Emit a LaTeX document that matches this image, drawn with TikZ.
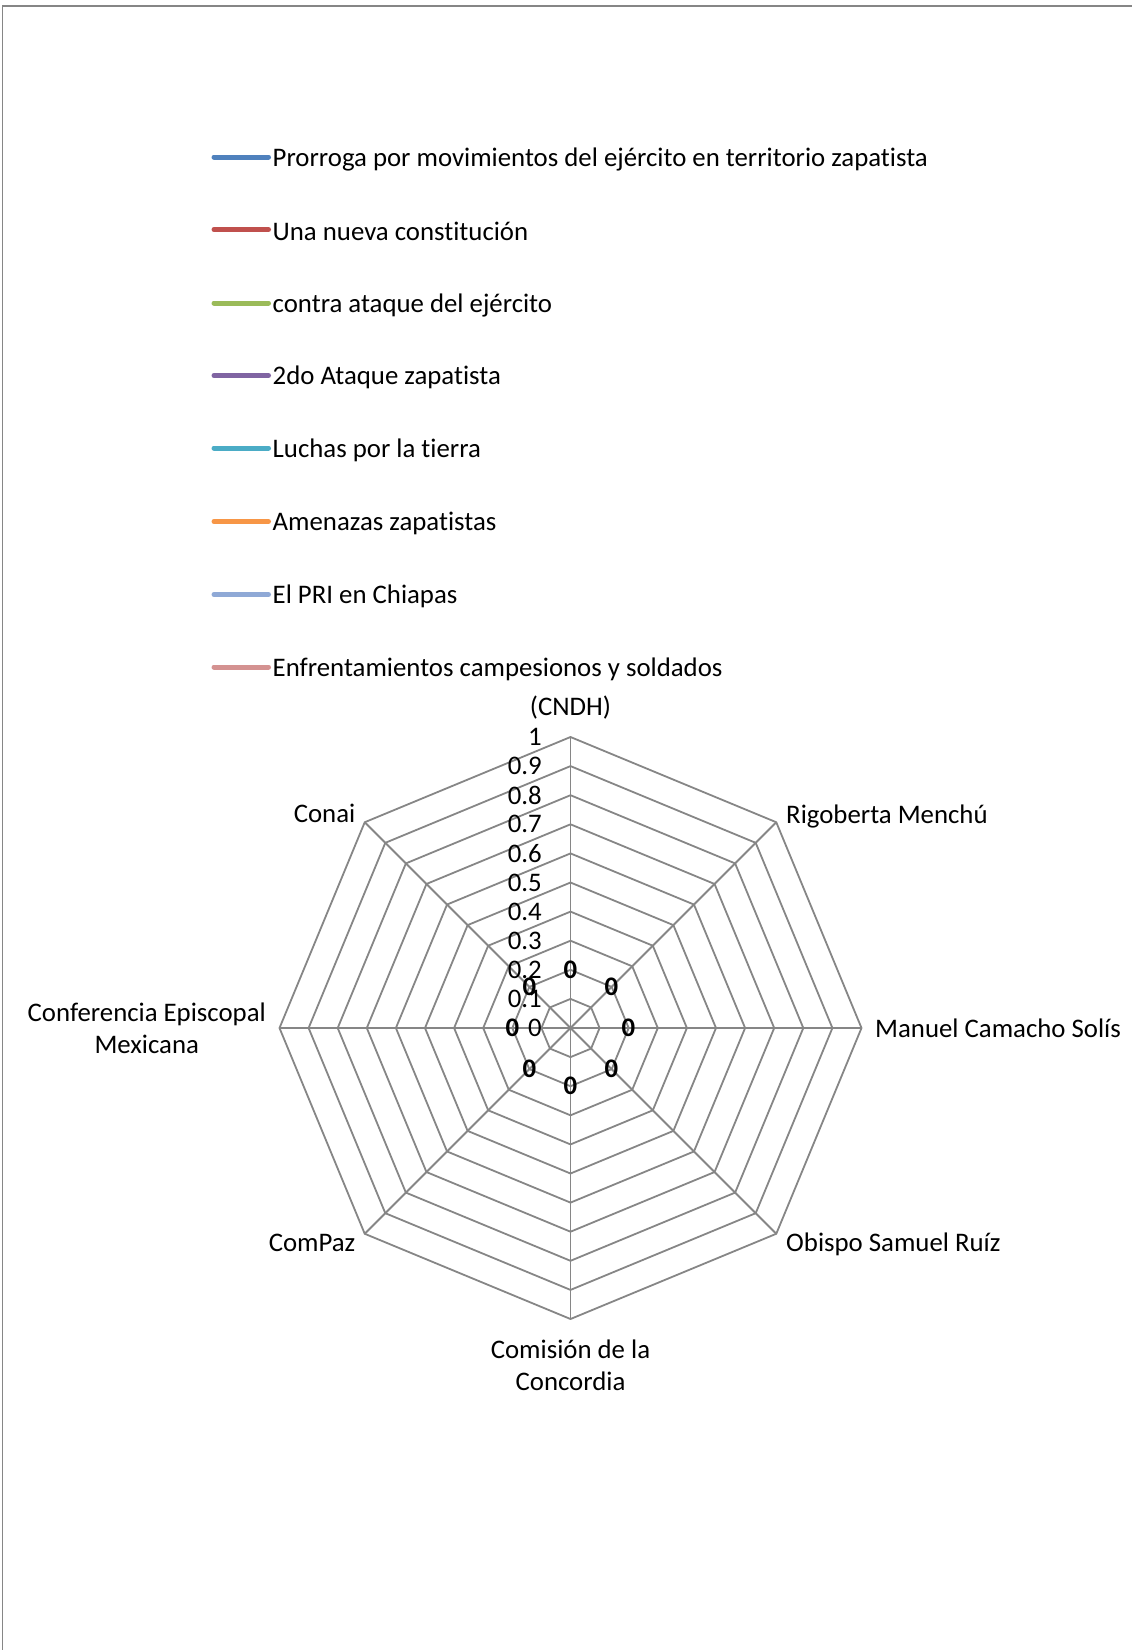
\documentclass[tikz,border=0pt]{standalone}
\usepackage{fontspec}
\setmainfont{Carlito}[Ligatures=NoCommon]
\usepackage{xcolor}
\usetikzlibrary{positioning}
\definecolor{serBlue}{HTML}{4F81BD}
\definecolor{serRed}{HTML}{C0504D}
\definecolor{serGreen}{HTML}{9BBB59}
\definecolor{serPurple}{HTML}{8064A2}
\definecolor{serAqua}{HTML}{4BACC6}
\definecolor{serOrange}{HTML}{F79646}
\definecolor{serSky}{HTML}{8FA9D6}
\definecolor{serRose}{HTML}{D49291}
\definecolor{webGray}{HTML}{868686}
\newcommand\chartfont{\fontsize{26.8}{32}\selectfont}

\begin{document}
\begin{tikzpicture}[x=1pt,y=-1pt,
  lbl/.style={inner sep=0pt,font=\chartfont},
  key/.style={line width=5pt,line cap=round},
  web/.style={draw=webGray,line width=1.8pt}]
\useasboundingbox (0,0) rectangle (1132,1650);
\draw[webGray,line width=1.5pt] (2.5,1650) -- (2.5,6) -- (1132,6);

% legend
\foreach \y/\c/\t [count=\i] in {157/serBlue/Prorroga por movimientos del ejército en territorio zapatista,
  229.5/serRed/Una nueva constitución,
  303/serGreen/contra ataque del ejército,
  375.5/serPurple/2do Ataque zapatista,
  448/serAqua/Luchas por la tierra,
  521.5/serOrange/Amenazas zapatistas,
  594.5/serSky/El PRI en Chiapas,
  667/serRose/Enfrentamientos campesionos y soldados}{
  \coordinate (k\i) at (214,\y);
  \node[lbl,anchor=west] (t\i) at (272.5,\y+2) {\t};
  \draw[key,\c] (k\i) -- ([xshift=-4pt]t\i.west |- k\i);
}

% radar grid
\begin{scope}[shift={(570.5,1028)},y=1pt]
\coordinate (ctr) at (0,0);
\foreach \r in {1,...,10}
  \draw[web] (0:\r*29.1) -- (45:\r*29.1) -- (90:\r*29.1) -- (135:\r*29.1) -- (180:\r*29.1)
    -- (225:\r*29.1) -- (270:\r*29.1) -- (315:\r*29.1) -- cycle;
\foreach \a in {0,45,...,315}{
  \coordinate (v\a) at (\a:291);
  \draw[web] (ctr) -- (v\a);
  \node[lbl,font=\chartfont\bfseries] (d\a) at (\a:58) {0};
}
\foreach \k/\t in {0/0,1/0.1,2/0.2,3/0.3,4/0.4,5/0.5,6/0.6,7/0.7,8/0.8,9/0.9,10/1}
  \node[lbl,anchor=east] (s\k) at (-28.5,\k*29.1) {\t};
\end{scope}

% axis labels
\node[lbl] (cndh) at (570.5,708) {(CNDH)};
\node[lbl,anchor=west] (rigo) at (786,816) {Rigoberta Menchú};
\node[lbl,anchor=west] (camacho) at (875,1028) {Manuel Camacho Solís};
\node[lbl,anchor=west] (ruiz) at (786,1244) {Obispo Samuel Ruíz};
\node[lbl,align=center] (cocopa) at (570.5,1365) {Comisión de la\\Concordia};
\node[lbl,anchor=east] (compaz) at (355.5,1243) {ComPaz};
\node[lbl,align=center,anchor=east] (cem) at (266,1028) {Conferencia Episcopal\\Mexicana};
\node[lbl,anchor=east] (conai) at (355.5,813) {Conai};
\end{tikzpicture}
\end{document}
